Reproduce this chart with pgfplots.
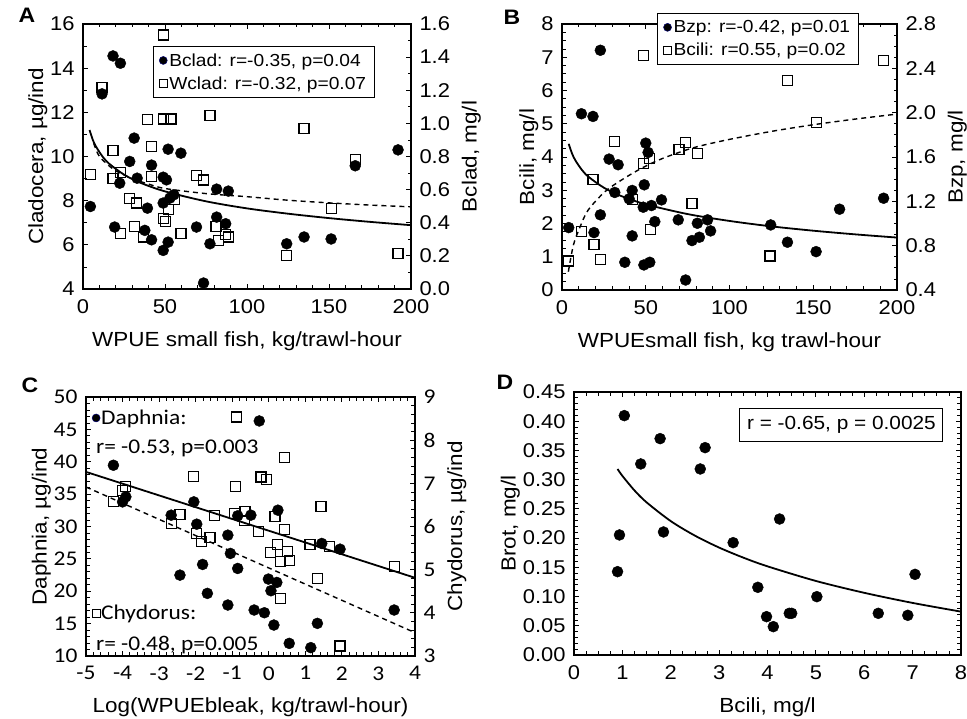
\documentclass[border=0pt]{standalone}
\usepackage{fontspec}
\setmainfont{Liberation Sans}[FakeStretch=1.1]
\newfontfamily\calib{Carlito}[FakeStretch=1.12]
\usepackage{pgfplots}
\pgfplotsset{compat=1.18}
\newcommand\tickfont{\fontsize{20}{23}\selectfont}
\newcommand\labfont{\fontsize{20.5}{24}\selectfont}
\newcommand\legfont{\fontsize{17.5}{20}\selectfont}
\newcommand\cfont{\calib\fontsize{21}{24}\selectfont}

\pgfplotsset{
  base/.style={scale only axis, anchor=south west, tick align=inside,
    major tick length=5bp, minor tick length=3.5bp,
    every tick/.style={black, line width=0.8bp},
    axis line style={line width=1.1bp},
    tick label style={font=\tickfont},
    label style={font=\labfont},
    xticklabel style={yshift=-7bp},
    yticklabel style={xshift=-5bp},
    xlabel style={yshift=-11bp},
    ylabel style={yshift=-4bp},
    /pgf/number format/assume math mode=true,
    legend image code/.code={\draw[#1] plot coordinates {(0bp,0bp)};},
    legend cell align=left},
  rightax/.style={axis x line=none, axis y line*=right,
    yticklabel style={xshift=10bp}, ylabel style={yshift=-1bp}},
  circ/.style={only marks, mark=*, mark size=5.5bp, black},
  sq/.style={only marks, mark=square, mark size=5bp, black, mark options={line width=1.2bp}},
  lcirc/.style={only marks, mark=*, mark size=4bp, black, mark options={draw=blue!45!black, line width=0.5bp}},
  lsq/.style={only marks, mark=square, mark size=4bp, black, mark options={line width=1bp}},
  fit/.style={no marks, black, line width=1.8bp, smooth},
  fitd/.style={no marks, black, line width=1.4bp, dash pattern=on 5bp off 4bp, smooth},
  legbox/.style={legend style={draw=black, line width=0.8bp, fill=white, font=\legfont,
    inner xsep=6bp, inner ysep=5bp, row sep=5bp, nodes={inner sep=2bp}}},
}

\begin{document}
\begin{tikzpicture}
\path[use as bounding box] (0,0) rectangle (967bp,719bp);

% ---------- A ----------
\begin{axis}[base, at={(83bp,430bp)}, width=328bp, height=265bp,
  xmin=0, xmax=200, ymin=4, ymax=16,
  xtick={0,50,100,150,200}, minor x tick num=4,
  ytick={4,6,8,10,12,14,16}, minor y tick num=1,
  xtick pos=both, ytick pos=left,
  xlabel={WPUE small fish, kg/trawl-hour}, ylabel={Cladocera, µg/ind}]
\addplot[sq] coordinates {(4.5,9.17)(11.6,13.14)(18.3,10.27)(18.3,9.02)(22.8,9.28)(22.8,6.53)(28.5,8.09)(32.6,7.89)(31.2,6.83)(37.1,6.35)(39.1,11.66)(41.8,10.45)(41.8,9.10)(48.9,15.50)(48.9,11.70)(53.6,11.70)(48.9,7.18)(50.3,7.06)(51.9,7.59)(56.0,8.07)(59.7,6.53)(69.2,9.13)(73.3,8.94)(77.4,11.87)(81.1,6.83)(82.5,6.20)(87.0,6.46)(88.6,6.35)(124.2,5.52)(134.8,11.25)(151.3,7.66)(166.0,9.88)(192.1,5.60)};
\addplot[fit] coordinates {(4,11.2)(6,10.75)(8,10.44)(12,9.99)(16,9.67)(25,9.18)(35,8.81)(50,8.42)(75,7.97)(100,7.65)(125,7.41)(150,7.21)(175,7.04)(200,6.89)};
\addplot[fitd] coordinates {(6.5,10.6)(8,10.3)(10,10.0)(14,9.7)(20,9.35)(30,9.0)(40,8.75)(50,8.55)(75,8.32)(100,8.18)(125,8.02)(150,7.9)(175,7.8)(200,7.72)};
\end{axis}
\begin{axis}[base, rightax, at={(83bp,430bp)}, width=328bp, height=265bp,
  xmin=0, xmax=200, ymin=0, ymax=1.6,
  ytick={0,0.2,0.4,0.6,0.8,1.0,1.2,1.4,1.6}, minor y tick num=1,
  yticklabel style={/pgf/number format/.cd, fixed, fixed zerofill, precision=1},
  ylabel={Bclad, mg/l}, legbox,
  legend style={at={(rel axis cs:0.213,0.917)}, anchor=north west}]
\addlegendimage{lcirc}\addlegendentry{Bclad: r=-0.35, p=0.04}
\addlegendimage{lsq}\addlegendentry{Wclad: r=-0.32, p=0.07}
\addplot[circ, forget plot] coordinates {(4.5,0.498)(11.6,1.178)(18.3,1.407)(22.8,1.363)(19.3,0.374)(22.4,0.639)(28.5,0.770)(31.2,0.911)(33.0,0.669)(37.7,0.354)(39.3,0.488)(41.8,0.748)(41.8,0.297)(48.9,0.675)(50.9,0.659)(51.9,0.844)(48.9,0.519)(48.9,0.233)(51.9,0.283)(53.0,0.549)(55.4,0.569)(59.7,0.820)(69.2,0.374)(73.5,0.036)(77.4,0.273)(81.5,0.603)(81.5,0.434)(87.0,0.394)(88.6,0.591)(124.2,0.273)(134.8,0.314)(151.3,0.302)(166.0,0.744)(192.1,0.840)};
\end{axis}

% ---------- B ----------
\begin{axis}[base, at={(562bp,429bp)}, width=335bp, height=266bp,
  xmin=0, xmax=200, ymin=0, ymax=8,
  xtick={0,50,100,150,200}, minor x tick num=4,
  ytick={0,1,2,3,4,5,6,7,8}, minor y tick num=3,
  xtick pos=both, ytick pos=left,
  xlabel={WPUEsmall fish, kg trawl-hour}, ylabel={Bcili, mg/l}]
\addplot[sq] coordinates {(4.0,0.873)(11.6,1.757)(19.1,1.376)(22.9,0.924)(18.5,3.313)(31.5,4.468)(41.9,2.711)(48.5,7.048)(48.5,3.795)(52.0,3.966)(53.0,1.827)(69.8,4.237)(73.8,4.438)(77.6,2.610)(80.8,4.116)(124.2,1.024)(134.6,6.295)(151.7,5.040)(192.0,6.908)};
\addplot[fitd] coordinates {(3.8,0.55)(6.8,1.35)(10.8,1.90)(15.7,2.41)(25.7,2.96)(35.6,3.31)(45.6,3.61)(55.5,3.86)(65.5,4.06)(80,4.30)(100,4.53)(125,4.77)(150,4.97)(175,5.14)(200,5.29)};
\end{axis}
\begin{axis}[base, rightax, at={(562bp,429bp)}, width=335bp, height=266bp,
  xmin=0, xmax=200, ymin=0.4, ymax=2.8,
  ytick={0.4,0.8,1.2,1.6,2.0,2.4,2.8}, minor y tick num=3,
  yticklabel style={/pgf/number format/.cd, fixed, fixed zerofill, precision=1},
  ylabel={Bzp, mg/l}, legbox,
  legend style={at={(rel axis cs:0.284,1.041)}, anchor=north west}]
\addlegendimage{lcirc}\addlegendentry{Bzp: r=-0.42, p=0.01}
\addlegendimage{lsq}\addlegendentry{Bcili: r=0.55, p=0.02}
\addplot[circ, forget plot] coordinates {(4.0,0.963)(11.6,1.990)(18.5,1.966)(19.1,0.918)(22.9,2.563)(22.9,1.078)(28.1,1.581)(33.5,1.530)(31.5,1.280)(40.1,1.222)(41.9,1.298)(41.9,0.888)(37.5,0.650)(49.1,1.349)(48.5,1.147)(53.4,1.162)(50.0,1.725)(51.4,1.641)(48.9,0.626)(52.4,0.650)(55.4,1.017)(59.4,1.213)(69.4,1.033)(73.8,0.490)(77.6,0.846)(80.8,1.002)(82.0,0.876)(86.9,1.033)(88.7,0.933)(124.6,0.987)(134.6,0.831)(151.7,0.746)(165.7,1.129)(192.0,1.228)};
\addplot[fit, forget plot] coordinates {(4,1.719)(6,1.631)(8,1.569)(12,1.481)(16,1.419)(25,1.323)(35,1.250)(50,1.173)(75,1.085)(100,1.023)(125,0.974)(150,0.935)(175,0.902)(200,0.873)};
\end{axis}

% ---------- C ----------
\begin{axis}[base, at={(86bp,63bp)}, width=329bp, height=259bp,
  xmin=-5, xmax=4, ymin=10, ymax=50,
  xtick={-5,-4,...,4}, minor x tick num=4,
  ytick={10,15,...,50}, minor y tick num=4,
  xtick pos=both, ytick pos=left, tick label style={font=\cfont},
  xlabel={Log(WPUEbleak, kg/trawl-hour)}, ylabel={Daphnia, µg/ind},
  legend style={at={(rel axis cs:0.018,0.919)}, anchor=west, draw=none, fill=none, font=\cfont, inner sep=0bp, nodes={inner sep=1bp}}]
\addlegendimage{lcirc}\addlegendentry{Daphnia:}
\addplot[circ, forget plot] coordinates {(-4.25,39.46)(-4.0,33.80)(-3.91,34.58)(-2.67,31.75)(-2.05,33.80)(-1.97,30.36)(-2.43,22.49)(-1.81,24.14)(-1.68,19.67)(-1.12,28.66)(-1.05,25.84)(-1.12,17.87)(-0.85,23.52)(-0.85,31.65)(-0.49,31.75)(-0.26,46.30)(-0.40,17.10)(-0.12,16.68)(-0.01,21.88)(0.06,20.08)(0.22,21.36)(0.14,14.78)(0.25,32.52)(0.56,11.95)(1.15,11.29)(1.33,15.04)(1.45,27.38)(1.95,26.50)(3.43,17.10)};
\addplot[fitd, forget plot] coordinates {(-5,36.1)(4,13.6)};
\node[font=\cfont, anchor=west] at (rel axis cs:0.02,0.803) {r= -0.53, p=0.003};
\node[font=\cfont, anchor=west] at (rel axis cs:0.02,0.042) {r= -0.48, p=0.005};
\end{axis}
\begin{axis}[base, rightax, at={(86bp,63bp)}, width=329bp, height=259bp,
  xmin=-5, xmax=4, ymin=3, ymax=9,
  ytick={3,4,5,6,7,8,9}, minor y tick num=4, tick label style={font=\cfont},
  ylabel={Chydorus, µg/ind},
  legend style={at={(rel axis cs:0.018,0.166)}, anchor=west, draw=none, fill=none, font=\cfont, inner sep=0bp, nodes={inner sep=1bp}}]
\addlegendimage{lsq}\addlegendentry{Chydorus:}
\addplot[sq, forget plot] coordinates {(-4.25,6.586)(-4.0,6.840)(-3.91,6.933)(-2.67,6.069)(-2.43,6.285)(-2.05,7.164)(-1.97,5.838)(-1.84,5.645)(-1.61,5.745)(-1.48,6.262)(-0.88,8.537)(-0.92,6.933)(-0.94,6.301)(-0.65,6.339)(-0.67,6.146)(-0.21,7.149)(-0.06,7.087)(-0.29,5.892)(0.17,6.224)(0.42,7.596)(0.44,5.938)(0.23,5.583)(0.05,5.398)(0.31,5.198)(0.51,5.414)(0.56,5.206)(0.31,4.334)(1.13,5.591)(1.33,4.797)(1.43,6.455)(1.66,5.530)(1.95,3.231)(3.43,5.067)};
\addplot[fit, forget plot] coordinates {(-5,7.265)(4,4.812)};
\end{axis}

% ---------- D ----------
\begin{axis}[base, at={(574bp,64bp)}, width=387bp, height=263bp,
  xmin=0, xmax=8, ymin=0, ymax=0.45,
  xtick={0,1,...,8}, minor x tick num=3,
  ytick={0,0.05,0.10,0.15,0.20,0.25,0.30,0.35,0.40,0.45}, minor y tick num=4,
  xtick pos=both, ytick pos=both,
  yticklabel style={/pgf/number format/.cd, fixed, fixed zerofill, precision=2},
  xlabel={Bcili, mg/l}, ylabel={Brot, mg/l}]
\addplot[circ] coordinates {(0.90,0.1426)(0.94,0.2054)(1.04,0.4096)(1.38,0.3269)(1.78,0.3702)(1.85,0.2105)(2.61,0.3183)(2.71,0.3548)(3.29,0.1922)(3.80,0.1158)(4.25,0.2327)(3.98,0.0656)(4.12,0.0485)(4.45,0.0713)(4.50,0.0713)(5.02,0.0998)(6.29,0.0713)(6.90,0.0679)(7.05,0.1380)};
\addplot[fit] coordinates {(0.9,0.3183)(1,0.3065)(1.25,0.2816)(1.5,0.2612)(2,0.2291)(2.5,0.2042)(3,0.1838)(3.5,0.1666)(4,0.1517)(5,0.1267)(6,0.1064)(7,0.0891)(8,0.0742)};
\node[draw, line width=0.9bp, fill=white, font=\fontsize{19}{22}\selectfont, minimum width=203bp, minimum height=33bp, inner sep=2bp, align=right] at (rel axis cs:0.691,0.876) {r = -0.65, p = 0.0025};
\end{axis}

% panel letters
\node[font=\bfseries\fontsize{21}{21}\selectfont] at (27bp,704bp) {A};
\node[font=\bfseries\fontsize{21}{21}\selectfont] at (512bp,702bp) {B};
\node[font=\bfseries\fontsize{21}{21}\selectfont] at (30bp,334bp) {C};
\node[font=\bfseries\fontsize{21}{21}\selectfont] at (505bp,337bp) {D};
\end{tikzpicture}
\end{document}
